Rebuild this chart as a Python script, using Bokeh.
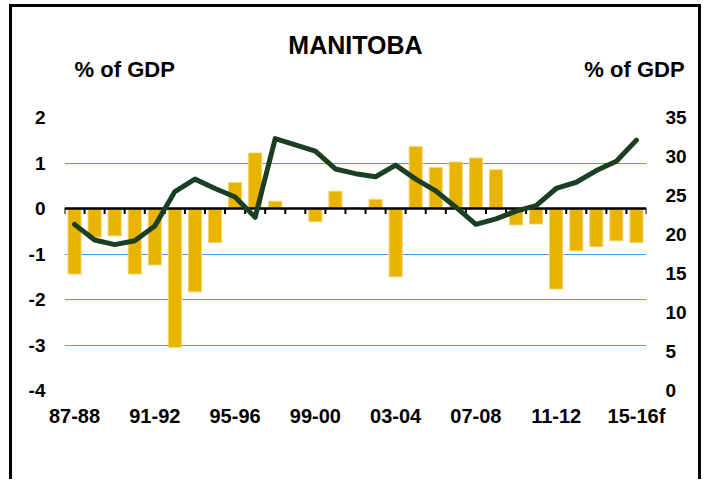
from bokeh.plotting import figure
from bokeh.models import LinearAxis, Range1d, FixedTicker
from bokeh.embed import file_html
from bokeh.resources import INLINE

categories = ["87-88", "88-89", "89-90", "90-91", "91-92", "92-93", "93-94", "94-95",
              "95-96", "96-97", "97-98", "98-99", "99-00", "00-01", "01-02", "02-03",
              "03-04", "04-05", "05-06", "06-07", "07-08", "08-09", "09-10", "10-11",
              "11-12", "12-13", "13-14", "14-15", "15-16f"]
balance = [-1.44, -0.63, -0.60, -1.44, -1.24, -3.05, -1.83, -0.75,
           0.57, 1.22, 0.16, 0.0, -0.29, 0.38, 0.02, 0.20,
           -1.50, 1.36, 0.90, 1.02, 1.11, 0.85, -0.36, -0.34,
           -1.77, -0.93, -0.84, -0.71, -0.75]
debt = [21.3, 19.3, 18.7, 19.2, 21.1, 25.5, 27.1, 25.9,
        24.8, 22.2, 32.3, 31.5, 30.7, 28.4, 27.8, 27.4,
        28.9, 27.1, 25.6, 23.5, 21.3, 22.0, 23.0, 23.7,
        25.9, 26.7, 28.2, 29.4, 32.1]
left_ticks = [-4, -3, -2, -1, 0, 1, 2]
right_ticks = [0, 5, 10, 15, 20, 25, 30, 35]
label_step = 4
title_text = "MANITOBA"
unit_text = "% of GDP"

FONT = "Liberation Sans"
n = len(categories)
xs = list(range(n))

frame_css = {
    "margin-left": "9px",
    "margin-top": "4px",
    "box-shadow": "inset 3px 0 0 0 black, inset -3px 0 0 0 black, inset 0 3px 0 0 black",
}

p = figure(width=692, height=475, output_backend="svg", toolbar_location=None,
           x_range=Range1d(-0.5, n - 0.5), y_range=Range1d(left_ticks[0], left_ticks[-1]),
           min_border_left=55, min_border_right=55, min_border_top=113, min_border_bottom=89,
           styles=frame_css)
p.extra_y_ranges = {"debt": Range1d(right_ticks[0], right_ticks[-1])}
p.outline_line_color = None
p.background_fill_color = "white"
p.border_fill_color = None

p.xgrid.visible = False
p.ygrid.ticker = FixedTicker(ticks=left_ticks)
p.ygrid.grid_line_color = "#44A2F8"
p.ygrid.grid_line_width = 1.2

def style_axis(ax, size, standoff):
    ax.axis_line_color = None
    ax.major_tick_in = 0
    ax.major_tick_out = 0
    ax.minor_tick_in = 0
    ax.minor_tick_out = 0
    ax.major_label_text_font = FONT
    ax.major_label_text_font_style = "bold"
    ax.major_label_text_font_size = size
    ax.major_label_text_color = "black"
    ax.major_label_standoff = standoff

yl = p.yaxis[0]
yl.ticker = FixedTicker(ticks=left_ticks)
yl.major_label_overrides = {t: str(t) for t in left_ticks}
style_axis(yl, "19px", 19)

xa = p.xaxis[0]
tick_idx = xs[::label_step]
xa.ticker = FixedTicker(ticks=tick_idx)
xa.major_label_overrides = {i: categories[i] for i in tick_idx}
style_axis(xa, "20px", 14)

yr = LinearAxis(y_range_name="debt", ticker=FixedTicker(ticks=right_ticks))
style_axis(yr, "19px", 19)
p.add_layout(yr, "right")

# header: unit labels above the left and right scales, chart title above them
unit_pos = [2.5, n - 1.1]
top_ax = LinearAxis(ticker=FixedTicker(ticks=unit_pos))
top_ax.major_label_overrides = {v: unit_text for v in unit_pos}
style_axis(top_ax, "22px", 36)
top_ax.axis_label = title_text
top_ax.axis_label_text_font = FONT
top_ax.axis_label_text_font_style = "bold"
top_ax.axis_label_text_font_size = "25px"
top_ax.axis_label_text_color = "black"
top_ax.axis_label_standoff = -5
p.add_layout(top_ax, "above")

p.vbar(x=xs, top=balance, bottom=0, width=0.65,
       fill_color="#E8B400", line_color="#F2D36A", line_width=1)
p.hspan(y=[0], line_color="black", line_width=2.5)
bounds = [i - 0.5 for i in range(n + 1)]
p.segment(x0=bounds, y0=[0] * len(bounds), x1=bounds, y1=[-0.12] * len(bounds),
          line_color="black", line_width=2)
p.line(xs, debt, y_range_name="debt", line_color="#1B3F22", line_width=5,
       line_join="round", line_cap="round")

open("out.html", "w").write(file_html(p, INLINE))
